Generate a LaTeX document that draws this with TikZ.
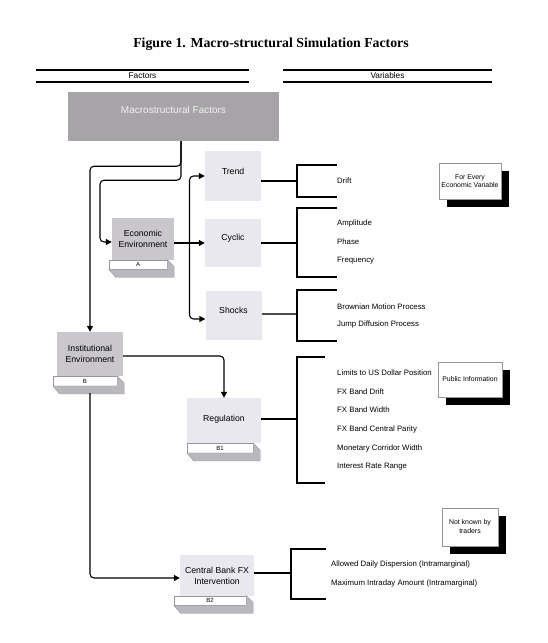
\documentclass[tikz,border=0pt]{standalone}
\usepackage{fontspec}
\setmainfont{Liberation Sans}
\newfontfamily\titlefont{Liberation Serif}
\usetikzlibrary{arrows.meta,positioning,calc,shadows}
\definecolor{macrogray}{RGB}{167,164,167}
\definecolor{envgray}{RGB}{201,199,204}
\definecolor{lightbox}{RGB}{233,232,238}
\definecolor{slabgray}{RGB}{186,184,190}
\definecolor{edgegray}{RGB}{150,150,152}
\newcommand{\fsz}[1]{\fontsize{#1}{11}\selectfont}
\newcommand{\slab}[1]{\filldraw[slab] (#1.south west) -- ++(7,8) -- ($(#1.south east)+(7,8)$) -- ($(#1.north east)+(7,7)$) -- (#1.north east) -- (#1.south east) -- cycle;}

\begin{document}
\begin{tikzpicture}[x=1pt,y=-1pt,
  title/.style={font=\titlefont\bfseries\fontsize{13.8}{15}\selectfont},
  head/.style={font=\fsz{8.3},inner sep=0pt},
  rule/.style={line width=1.6pt},
  topbox/.style={rectangle,fill=macrogray,text=white!90!gray,minimum width=211,
                 minimum height=49,font=\fsz{10},text height=7pt,text depth=13pt},
  factor/.style={rectangle,fill=envgray,minimum width=62,minimum height=42,inner sep=0pt,
                 align=center,font=\fsz{8.7}},
  varbox/.style={rectangle,fill=lightbox,minimum width=56,minimum height=50,inner sep=0pt,
                 align=center,font=\fsz{8.7}},
  tab/.style={rectangle,draw=edgegray,line width=0.4pt,fill=white,minimum height=9.5,
              inner sep=0pt,font=\fsz{6}},
  slab/.style={fill=slabgray,draw=edgegray,line width=0.4pt},
  note/.style={rectangle,draw=edgegray,line width=0.5pt,fill=white,minimum width=62,
               minimum height=36,inner sep=1pt,align=center,
               font=\fontsize{6.9}{8}\selectfont,
               drop shadow={shadow xshift=8pt,shadow yshift=-8pt,fill=black,opacity=1}},
  item/.style={anchor=west,font=\fsz{7.8},inner sep=0pt},
  brace/.style={line width=1.7pt},
  arrow/.style={-{Triangle[length=6pt,width=6pt]},line width=1.1pt,rounded corners=4pt}
]
\useasboundingbox (0,0) rectangle (548,643);

% title and column heads
\node[title] (title) at (271,44) {Figure 1. Macro-structural Simulation Factors};
\node[head] (factors) at (142.5,76) {Factors};
\node[head] (variables) at (387.5,76) {Variables};
\draw[rule] (36,70) -- (249,70) (36,82) -- (249,82);
\draw[rule] (283,70) -- (492,70) (283,82) -- (492,82);

% factors
\node[topbox] (macro) at (173.5,116.5) {Macrostructural Factors};
\node[factor] (eco) at (143,239) {Economic\\Environment};
\node[tab,minimum width=58] (ecoA) at (138,264.5) {A};
\node[factor,minimum width=66,minimum height=44] (inst) at (90,354) {Institutional\\Environment};
\node[tab,minimum width=64] (instB) at (85,381) {B};
\slab{ecoA}
\slab{instB}

\node[varbox,text height=6pt,text depth=10pt] (trend) at (233,176) {Trend};
\node[varbox,minimum height=48,text height=6pt,text depth=12pt] (cyc) at (233,243) {Cyclic};
\node[varbox,minimum height=49,text height=6pt,text depth=11pt] (shocks) at (233.5,315.5) {Shocks};
\node[varbox,minimum width=74,minimum height=45,text height=6pt,text depth=5pt] (reg) at (224,420.5) {Regulation};
\node[tab,minimum width=66] (regB1) at (220,448) {B1};
\node[varbox,minimum width=74,minimum height=41] (cbank) at (217,575.5) {Central Bank FX\\Intervention};
\node[tab,minimum width=72] (cbankB2) at (210,600.5) {B2};
\slab{regB1}
\slab{cbankB2}

% notes
\node[note] (every) at (470,181) {For Every\\Economic Variable};
\node[note,minimum width=64,minimum height=35] (public) at (470,379.5) {Public Information};
\node[note,minimum width=56,minimum height=38,font=\fontsize{6.9}{9}\selectfont] (unknown) at (470,527) {Not known by\\traders};

% variables
\node[item] (drift) at (337,181) {Drift};
\node[item] (ampl) at (337,223) {Amplitude};
\node[item] (phase) at (337,242) {Phase};
\node[item] (freq) at (337,261) {Frequency};
\node[item] (brown) at (337,307) {Brownian Motion Process};
\node[item] (jump) at (337,324) {Jump Diffusion Process};
\node[item] (limits) at (337,373) {Limits to US Dollar Position};
\node[item] (fxdrift) at (337,392) {FX Band Drift};
\node[item] (fxwidth) at (337,410) {FX Band Width};
\node[item] (fxparity) at (337,429) {FX Band Central Parity};
\node[item] (corridor) at (337,448) {Monetary Corridor Width};
\node[item] (ratrange) at (337,467) {Interest Rate Range};
\node[item] (dispersion) at (331,564) {Allowed Daily Dispersion (Intramarginal)};
\node[item] (intraday) at (331,583) {Maximum Intraday Amount (Intramarginal)};

% brackets
\draw[brace] ([yshift=-5pt]trend.east) -- ++(36,0);
\draw[brace] (337,165) -| (297,197) -- (337,197);
\draw[brace] (cyc.east) -- ++(36,0);
\draw[brace] (337,208) -| (297,277) -- (337,277);
\draw[brace,draw=black!70] ([yshift=1.5pt]shocks.east) -- ++(36,0);
\draw[brace] (337,290) -| (297,341) -- (337,341);
\draw[brace] ([yshift=1.5pt]reg.east) -- ++(37,0);
\draw[brace] (325,357) -| (297,483) -- (325,483);
\draw[brace] ([yshift=2.5pt]cbank.east) -- ++(37,0);
\draw[brace] (326,549) -| (291,599) -- (326,599);

% connectors
\coordinate (fork) at (189.5,243);
\draw[arrow] ([xshift=7.5pt]macro.south) -- ++(0,25) -| (inst);
\draw[arrow] ([xshift=7.5pt]macro.south) -- ++(0,39) -- ++(-81,0) |- ([yshift=-3pt]eco.west);
\draw[arrow] (eco.east |- cyc) -- (cyc);
\draw[arrow] (fork) |- (trend);
\draw[arrow] (fork) |- ([yshift=-3.5pt]shocks.west);
\draw[arrow] ([yshift=-2pt]inst.east) -| (reg);
\draw[arrow] ([yshift=-17pt]inst.south) |- ([yshift=-2.5pt]cbank.west);
\end{tikzpicture}
\end{document}
